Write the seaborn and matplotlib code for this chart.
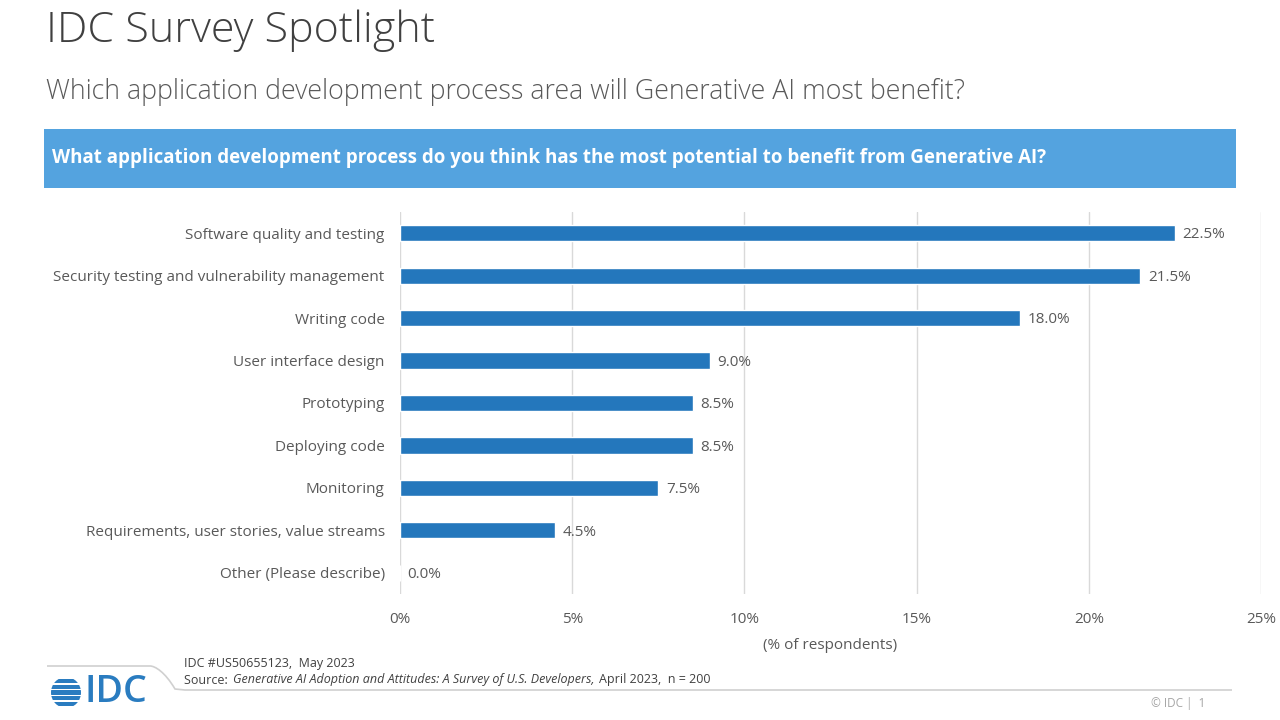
import matplotlib
matplotlib.use("Agg")
import matplotlib.pyplot as plt
import seaborn as sns
import pandas as pd
import numpy as np
from matplotlib.patches import Rectangle, Circle, PathPatch
from matplotlib.path import Path

categories = [
    "Software quality and testing",
    "Security testing and vulnerability management",
    "Writing code",
    "User interface design",
    "Prototyping",
    "Deploying code",
    "Monitoring",
    "Requirements, user stories, value streams",
    "Other (Please describe)",
]
values = [22.5, 21.5, 18.0, 9.0, 8.5, 8.5, 7.5, 4.5, 0.0]
xticks = [0, 5, 10, 15, 20, 25]

df = pd.DataFrame({"category": categories, "value": values})

sns.set_theme(style="white")
plt.rcParams["font.family"] = ["Open Sans", "DejaVu Sans"]

W, H = 1280, 720
fig = plt.figure(figsize=(12.8, 7.2), dpi=100)

def fx(x):
    return x / W

def fy(y):
    return 1 - y / H

bar_color = "#2477BC"
ax = fig.add_axes([fx(400), fy(594), fx(1261) - fx(400), fy(212) - fy(594)])
sns.barplot(data=df, x="value", y="category", color=bar_color, width=0.38,
            saturation=1, ax=ax, orient="h")
ax.set_xlim(0, 25)
ax.set_ylim(8.5, -0.5)
ax.set_xticks(xticks)
ax.set_xticklabels([f"{t}%" for t in xticks], color="#595959", fontsize=11)
ax.tick_params(axis="y", labelsize=11, labelcolor="#595959", length=0, pad=11)
ax.tick_params(axis="x", length=0, pad=13)
ax.set_ylabel("")
ax.set_xlabel("(% of respondents)", color="#595959", fontsize=11, labelpad=8)
ax.grid(axis="x", color="#D9D9D9", linewidth=1)
ax.set_axisbelow(True)
for s in ax.spines.values():
    s.set_visible(False)
for i, v in enumerate(values):
    ax.text(v + 0.22, i + 0.04, f"{v:.1f}%", va="center", ha="left",
            fontsize=11, color="#595959")

# Titles
fig.text(fx(46), fy(31), "IDC Survey Spotlight", fontsize=31, color="#404040",
         va="center", ha="left", fontweight="light")
fig.text(fx(46), fy(92), "Which application development process area will Generative AI most benefit?",
         fontsize=19.3, color="#595959", va="center", ha="left", fontweight="light")

# Header band
fig.patches.append(Rectangle((fx(44), fy(188)), fx(1236) - fx(44), fy(129) - fy(188),
                             transform=fig.transFigure, facecolor="#54A3DF",
                             edgecolor="none", zorder=0))
fig.text(fx(52), fy(158), "What application development process do you think has the most potential to benefit from Generative AI?",
         fontsize=13.5, color="white", fontweight="bold", va="center", ha="left")

# Footer
verts = [(fx(47), fy(666)), (fx(150), fy(666)), (fx(155), fy(666)),
         (fx(165), fy(672)), (fx(175), fy(689)), (fx(185), fy(690)),
         (fx(1232), fy(690))]
codes = [Path.MOVETO, Path.LINETO, Path.CURVE4, Path.CURVE4, Path.CURVE4,
         Path.LINETO, Path.LINETO]
fig.patches.append(PathPatch(Path(verts, codes), transform=fig.transFigure,
                             facecolor="none", edgecolor="#D0D0D0", linewidth=1.2))
fig.text(fx(184), fy(663), "IDC #US50655123,  May 2023", fontsize=9, color="#404040",
         va="center", ha="left")
fig.text(fx(184), fy(680), "Source: ", fontsize=9, color="#404040", va="center", ha="left")
fig.text(fx(233), fy(680), "Generative AI Adoption and Attitudes: A Survey of U.S. Developers,",
         fontsize=9, color="#404040", va="center", ha="left", style="italic")
fig.text(fx(599), fy(680), "April 2023,  n = 200", fontsize=9, color="#404040",
         va="center", ha="left")
fig.text(fx(1205), fy(704), "© IDC |  1", fontsize=8.5, color="#A6A6A6", va="center", ha="right")

# IDC logo
logo_ax = fig.add_axes([fx(51), fy(708), fx(30), fy(677) - fy(708)])
logo_ax.set_xlim(-1, 1)
logo_ax.set_ylim(-1, 1)
logo_ax.axis("off")
circ = Circle((0, 0), 1, transform=logo_ax.transData)
for yy in [0.72, 0.36, 0.0, -0.36, -0.72]:
    r = Rectangle((-1.1, yy - 0.13), 2.2, 0.26, facecolor="#2A7CC0", edgecolor="none")
    logo_ax.add_patch(r)
    r.set_clip_path(circ)
fig.text(fx(84), fy(692), "IDC", fontsize=27, color="#2A7CC0", va="center", ha="left",
         fontweight="semibold")

fig.savefig("out.png", dpi=100)
